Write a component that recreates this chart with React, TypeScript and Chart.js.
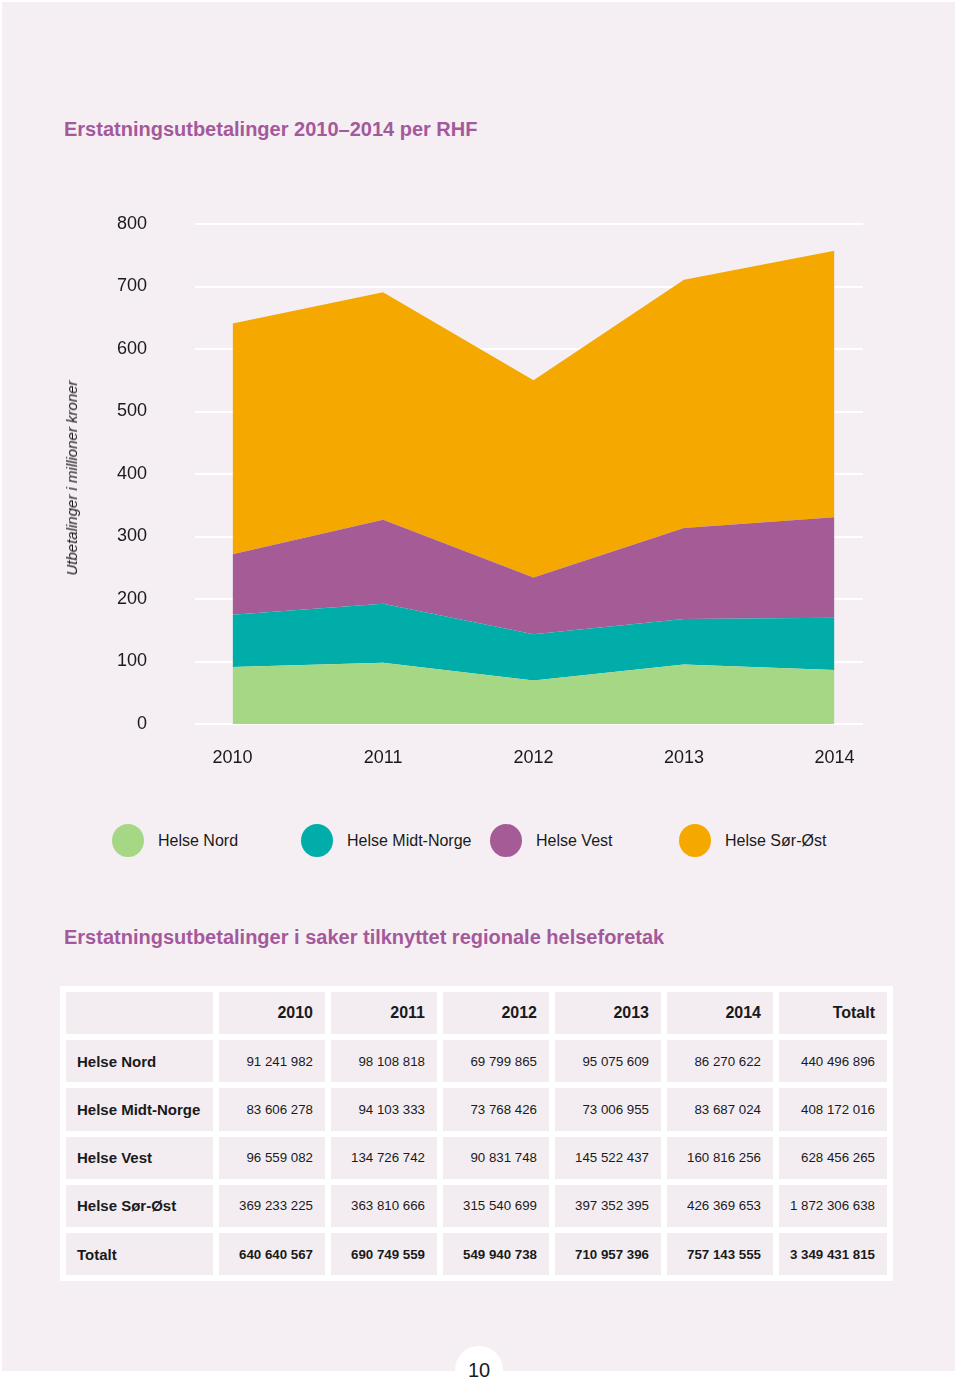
import React, { useEffect, useRef } from "react";
import { Chart, registerables } from "chart.js";

Chart.register(...registerables);

// ---------- data ----------
const years = ["2010", "2011", "2012", "2013", "2014"];
const regions = ["Helse Nord", "Helse Midt-Norge", "Helse Vest", "Helse Sør-Øst"];
const helseNord = [91241982, 98108818, 69799865, 95075609, 86270622];
const helseMidtNorge = [83606278, 94103333, 73768426, 73006955, 83687024];
const helseVest = [96559082, 134726742, 90831748, 145522437, 160816256];
const helseSorOst = [369233225, 363810666, 315540699, 397352395, 426369653];
const yearTotals = [640640567, 690749559, 549940738, 710957396, 757143555];
const regionTotals = [440496896, 408172016, 628456265, 1872306638];
const grandTotal = 3349431815;
const yTickValues = [0, 100, 200, 300, 400, 500, 600, 700, 800];

const regionColors = ["#a6d785", "#00ada9", "#a55b96", "#f5a800"];
const titleColor = "#a4599b";
const pageBg = "#f5eff4";
const cellBg = "#f3edf2";
const textColor = "#1a1a1a";
const FONT = "'Liberation Sans', Arial, Helvetica, sans-serif";

const seriesList = [helseNord, helseMidtNorge, helseVest, helseSorOst];

function fmt(n: number): string {
  return n.toString().replace(/\B(?=(\d{3})+(?!\d))/g, " ");
}

function AreaChart() {
  const ref = useRef<HTMLCanvasElement | null>(null);
  useEffect(() => {
    if (!ref.current) return;
    const datasets = seriesList.map((s, i) => ({
      label: regions[i],
      data: s.map((v, j) => ({ x: j, y: v / 1e6 })),
      backgroundColor: regionColors[i],
      borderColor: regionColors[i],
      borderWidth: 0,
      pointRadius: 0,
      tension: 0,
      fill: i === 0 ? "origin" : "-1",
    }));
    const chart = new Chart(ref.current, {
      type: "line",
      data: { datasets },
      options: {
        animation: false,
        responsive: false,
        devicePixelRatio: 1,
        layout: { padding: { top: 44, right: 97, left: 0, bottom: 0 } },
        plugins: {
          legend: { display: false },
          tooltip: { enabled: false },
          filler: { propagate: false },
        },
        scales: {
          x: {
            type: "linear",
            min: -0.25,
            max: 4.19,
            grid: { display: false },
            border: { display: false },
            afterFit: (s: any) => {
              s.height = 56;
            },
            ticks: {
              stepSize: 1,
              includeBounds: false,
              autoSkip: false,
              maxRotation: 0,
              padding: 15,
              color: textColor,
              font: { family: FONT, size: 18 },
              callback: (v: any) =>
                Number.isInteger(v) && years[v] !== undefined ? years[v] : "",
            },
          },
          y: {
            stacked: true,
            min: yTickValues[0],
            max: yTickValues[yTickValues.length - 1],
            z: 1,
            grid: {
              color: "#ffffff",
              lineWidth: 2,
              drawTicks: true,
              tickLength: 45,
              tickColor: "rgba(0,0,0,0)",
            },
            border: { display: false },
            afterFit: (s: any) => {
              s.width = 195;
            },
            afterBuildTicks: (s: any) => {
              s.ticks = yTickValues.map((v) => ({ value: v }));
            },
            ticks: {
              padding: 3,
              color: textColor,
              font: { family: FONT, size: 18 },
            },
          },
        },
      } as any,
    });
    return () => chart.destroy();
  }, []);
  return (
    <canvas
      ref={ref}
      width={960}
      height={600}
      style={{ position: "absolute", left: 0, top: 180, width: 960, height: 600 }}
    />
  );
}

const legendX = [128, 317, 506, 695];

export default function App() {
  const colWidths = [147, 106, 106, 106, 106, 106, 108];
  const rowH = 42.2;
  const firstCell: React.CSSProperties = {
    background: cellBg,
    height: rowH,
    padding: "0 0 0 11px",
    textAlign: "left",
    fontWeight: "bold",
    fontSize: 15,
    color: textColor,
    boxSizing: "border-box",
    whiteSpace: "nowrap",
  };
  const numCell = (bold: boolean, size: number): React.CSSProperties => ({
    background: cellBg,
    height: rowH,
    padding: "0 12px 0 0",
    textAlign: "right",
    fontWeight: bold ? "bold" : "normal",
    fontSize: size,
    color: textColor,
    boxSizing: "border-box",
    whiteSpace: "nowrap",
  });

  return (
    <div
      style={{
        position: "absolute",
        left: 0,
        top: 0,
        width: 960,
        height: 1377,
        background: "#ffffff",
        fontFamily: FONT,
        overflow: "hidden",
      }}
    >
      <div
        style={{
          position: "absolute",
          left: 2,
          top: 2,
          width: 953,
          height: 1369,
          background: pageBg,
        }}
      />
      <div
        style={{
          position: "absolute",
          left: 64,
          top: 117,
          fontSize: 20,
          lineHeight: "24px",
          fontWeight: "bold",
          color: titleColor,
          whiteSpace: "nowrap",
        }}
      >
        Erstatningsutbetalinger 2010–2014 per RHF
      </div>

      <AreaChart />

      <div
        style={{
          position: "absolute",
          left: 72,
          top: 478,
          transform: "translate(-50%, -50%) rotate(-90deg)",
          fontSize: 15,
          fontStyle: "italic",
          color: textColor,
          whiteSpace: "nowrap",
          lineHeight: "18px",
        }}
      >
        Utbetalinger i millioner kroner
      </div>

      {regions.map((r, i) => (
        <React.Fragment key={r}>
          <div
            style={{
              position: "absolute",
              left: legendX[i] - 16,
              top: 824,
              width: 32,
              height: 33,
              borderRadius: "50%",
              background: regionColors[i],
            }}
          />
          <div
            style={{
              position: "absolute",
              left: legendX[i] + 30,
              top: 831,
              fontSize: 16,
              lineHeight: "20px",
              color: textColor,
              whiteSpace: "nowrap",
            }}
          >
            {r}
          </div>
        </React.Fragment>
      ))}

      <div
        style={{
          position: "absolute",
          left: 64,
          top: 925,
          fontSize: 20,
          lineHeight: "24px",
          fontWeight: "bold",
          color: titleColor,
          whiteSpace: "nowrap",
        }}
      >
        Erstatningsutbetalinger i saker tilknyttet regionale helseforetak
      </div>

      <table
        style={{
          position: "absolute",
          left: 60,
          top: 986,
          background: "#ffffff",
          borderCollapse: "separate",
          borderSpacing: 6,
          tableLayout: "fixed",
          width: 833,
        }}
      >
        <colgroup>
          {colWidths.map((w, i) => (
            <col key={i} style={{ width: w }} />
          ))}
        </colgroup>
        <tbody>
          <tr>
            <td style={firstCell}></td>
            {years.map((y) => (
              <td key={y} style={numCell(true, 16)}>
                {y}
              </td>
            ))}
            <td style={numCell(true, 16)}>Totalt</td>
          </tr>
          {regions.map((r, i) => (
            <tr key={r}>
              <td style={firstCell}>{r}</td>
              {seriesList[i].map((v, j) => (
                <td key={j} style={numCell(false, 13.3)}>
                  {fmt(v)}
                </td>
              ))}
              <td style={numCell(false, 13.3)}>{fmt(regionTotals[i])}</td>
            </tr>
          ))}
          <tr>
            <td style={firstCell}>Totalt</td>
            {yearTotals.map((v, j) => (
              <td key={j} style={numCell(true, 13.3)}>
                {fmt(v)}
              </td>
            ))}
            <td style={numCell(true, 13.3)}>{fmt(grandTotal)}</td>
          </tr>
        </tbody>
      </table>

      <div
        style={{
          position: "absolute",
          left: 479 - 24,
          top: 1370 - 24,
          width: 48,
          height: 48,
          borderRadius: "50%",
          background: "#ffffff",
        }}
      />
      <div
        style={{
          position: "absolute",
          left: 479 - 24,
          top: 1358,
          width: 48,
          textAlign: "center",
          fontSize: 20,
          lineHeight: "24px",
          color: textColor,
        }}
      >
        10
      </div>
    </div>
  );
}
